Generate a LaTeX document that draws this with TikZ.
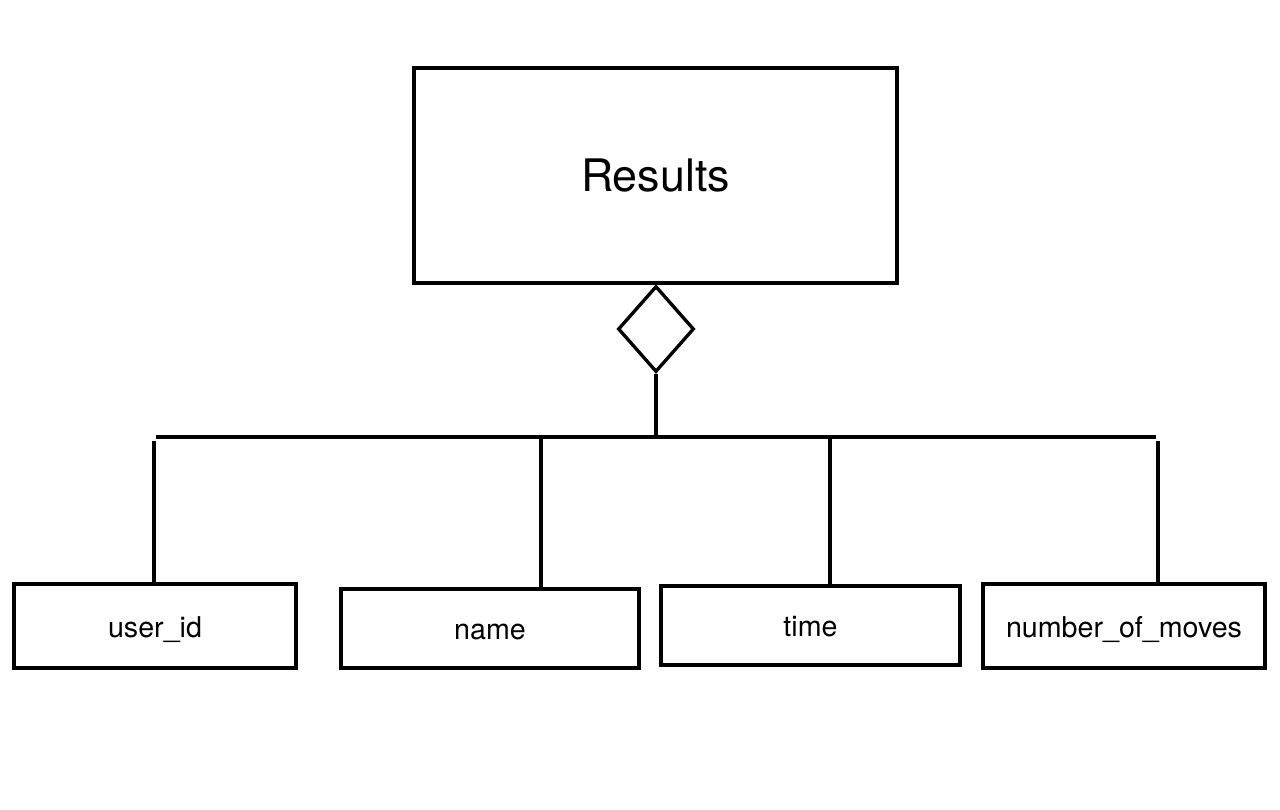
\documentclass[tikz,border=0pt]{standalone}
\usepackage{fontspec}
\setmainfont{TeX Gyre Heros}
\usetikzlibrary{shapes.geometric}
\begin{document}
\begin{tikzpicture}[x=0.02cm,y=-0.02cm,
  every path/.style={line width=1.9pt},
  entity/.style={draw,line width=1.9pt,inner sep=0pt,font=\fontsize{25.5}{30}\selectfont},
  attr/.style={draw,line width=1.9pt,inner sep=0pt,text height=14pt,text depth=1pt,font=\fontsize{16.3}{19}\selectfont},
  rel/.style={draw,diamond,line width=1.9pt,inner sep=0pt,minimum width=1.52cm,minimum height=1.72cm}]
\useasboundingbox (0,0) rectangle (1280,809);
\node[entity,minimum width=9.66cm,minimum height=4.3cm] (r) at (655.5,175.5) {Results};
\node[rel] (d) at (656,329) {};
\node[attr,minimum width=5.64cm,minimum height=1.68cm] (u) at (155,626) {user\_id};
\node[attr,minimum width=5.96cm,minimum height=1.58cm] (n) at (490,628.5) {name};
\node[attr,minimum width=5.98cm,minimum height=1.58cm] (t) at (810.5,625.5) {time};
\node[attr,minimum width=5.64cm,minimum height=1.68cm] (m) at (1124,626) {number\_of\_moves};
\coordinate (j) at (656,437);
\coordinate (hl) at (156,437);
\coordinate (hr) at (1156,437);
\coordinate (c1) at (154,441);
\coordinate (c2) at (541,437);
\coordinate (c3) at (830,437);
\coordinate (c4) at (1158,441);
\draw (d.south) -- (j);
\draw (hl) -- (hr);
\draw (c1) -- (c1 |- u.north);
\draw (c2) -- (c2 |- n.north);
\draw (c3) -- (c3 |- t.north);
\draw (c4) -- (c4 |- m.north);
\end{tikzpicture}
\end{document}
